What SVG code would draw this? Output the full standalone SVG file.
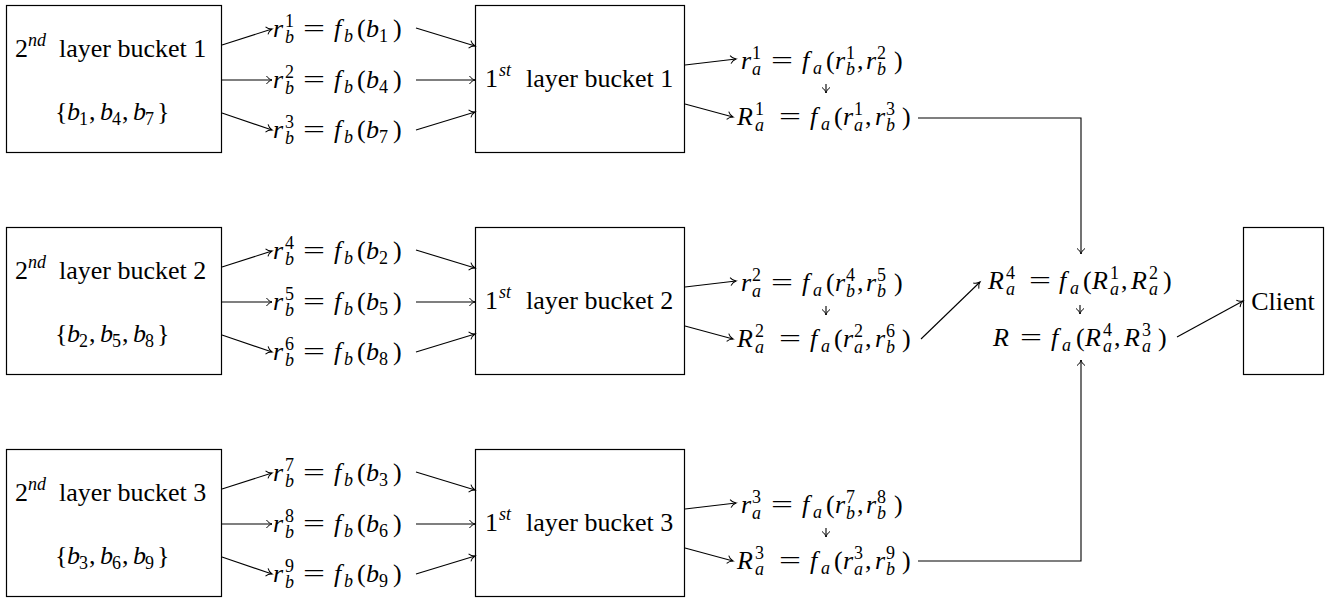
<svg xmlns="http://www.w3.org/2000/svg" width="1327" height="599" viewBox="0 0 1327 599" font-family="Liberation Serif" font-size="26">
<defs>
<marker id="ah" markerUnits="userSpaceOnUse" markerWidth="12" markerHeight="12" viewBox="-7 -6 8 12" refX="0" refY="0" orient="auto" overflow="visible">
<path d="M-5.5,-4 C-4,-1.6 -1.5,-0.4 0,0 C-1.5,0.4 -4,1.6 -5.5,4" fill="none" stroke="#000" stroke-width="1"/>
</marker>
</defs>
<g id="bucket2-1">
<rect fill="#fff" stroke="#000" stroke-width="1.2" x="6.5" y="5.5" width="215" height="147"/>
<text font-family="Liberation Serif"><tspan x="15" y="57">2</tspan><tspan x="28" y="46" font-size="18" font-style="italic">nd</tspan><tspan x="59" y="57">layer bucket 1</tspan></text>
<text font-family="Liberation Serif"><tspan x="55" y="120">{</tspan><tspan x="67" y="120" font-style="italic">b</tspan><tspan x="79" y="125" font-size="18">1</tspan><tspan x="89" y="120">,</tspan><tspan x="100" y="120" font-style="italic">b</tspan><tspan x="112" y="125" font-size="18">4</tspan><tspan x="122" y="120">,</tspan><tspan x="133" y="120" font-style="italic">b</tspan><tspan x="145" y="125" font-size="18">7</tspan><tspan x="157" y="120">}</tspan></text>
</g>
<g id="rb1"><text font-family="Liberation Serif"><tspan x="273" y="37" font-style="italic">r</tspan><tspan x="285" y="27" font-size="18">1</tspan><tspan x="285" y="43" font-size="18" font-style="italic">b</tspan><tspan x="303" y="37" textLength="22" lengthAdjust="spacingAndGlyphs">=</tspan><tspan x="334" y="37" font-style="italic">f</tspan><tspan x="344" y="42" font-size="18" font-style="italic">b</tspan><tspan x="357" y="37">(</tspan><tspan x="366" y="37" font-style="italic">b</tspan><tspan x="379" y="42" font-size="18">1</tspan><tspan x="393" y="37">)</tspan></text></g>
<g id="rb2"><text font-family="Liberation Serif"><tspan x="273" y="88" font-style="italic">r</tspan><tspan x="285" y="78" font-size="18">2</tspan><tspan x="285" y="94" font-size="18" font-style="italic">b</tspan><tspan x="303" y="88" textLength="22" lengthAdjust="spacingAndGlyphs">=</tspan><tspan x="334" y="88" font-style="italic">f</tspan><tspan x="344" y="93" font-size="18" font-style="italic">b</tspan><tspan x="357" y="88">(</tspan><tspan x="366" y="88" font-style="italic">b</tspan><tspan x="379" y="93" font-size="18">4</tspan><tspan x="393" y="88">)</tspan></text></g>
<g id="rb3"><text font-family="Liberation Serif"><tspan x="273" y="138" font-style="italic">r</tspan><tspan x="285" y="128" font-size="18">3</tspan><tspan x="285" y="144" font-size="18" font-style="italic">b</tspan><tspan x="303" y="138" textLength="22" lengthAdjust="spacingAndGlyphs">=</tspan><tspan x="334" y="138" font-style="italic">f</tspan><tspan x="344" y="143" font-size="18" font-style="italic">b</tspan><tspan x="357" y="138">(</tspan><tspan x="366" y="138" font-style="italic">b</tspan><tspan x="379" y="143" font-size="18">7</tspan><tspan x="393" y="138">)</tspan></text></g>
<g id="bucket1-1">
<rect fill="#fff" stroke="#000" stroke-width="1.2" x="475.5" y="5.5" width="209" height="147"/>
<text font-family="Liberation Serif"><tspan x="485" y="87">1</tspan><tspan x="499" y="76" font-size="18" font-style="italic">st</tspan><tspan x="526" y="87">layer bucket 1</tspan></text>
</g>
<g id="ra1"><text font-family="Liberation Serif"><tspan x="741" y="69" font-style="italic">r</tspan><tspan x="752" y="59" font-size="18">1</tspan><tspan x="752" y="75" font-size="18" font-style="italic">a</tspan><tspan x="771" y="69" textLength="22" lengthAdjust="spacingAndGlyphs">=</tspan><tspan x="802" y="69" font-style="italic">f</tspan><tspan x="813" y="74" font-size="18" font-style="italic">a</tspan><tspan x="826" y="69">(</tspan><tspan x="835" y="69" font-style="italic">r</tspan><tspan x="846" y="59" font-size="18">1</tspan><tspan x="846" y="75" font-size="18" font-style="italic">b</tspan><tspan x="857" y="69">,</tspan><tspan x="866" y="69" font-style="italic">r</tspan><tspan x="877" y="59" font-size="18">2</tspan><tspan x="877" y="75" font-size="18" font-style="italic">b</tspan><tspan x="894" y="69">)</tspan></text></g>
<g id="Ra1"><text font-family="Liberation Serif"><tspan x="737" y="125" font-style="italic">R</tspan><tspan x="755" y="115" font-size="18">1</tspan><tspan x="755" y="131" font-size="18" font-style="italic">a</tspan><tspan x="779" y="125" textLength="22" lengthAdjust="spacingAndGlyphs">=</tspan><tspan x="810" y="125" font-style="italic">f</tspan><tspan x="821" y="130" font-size="18" font-style="italic">a</tspan><tspan x="834" y="125">(</tspan><tspan x="843" y="125" font-style="italic">r</tspan><tspan x="854" y="115" font-size="18">1</tspan><tspan x="854" y="131" font-size="18" font-style="italic">a</tspan><tspan x="865" y="125">,</tspan><tspan x="875" y="125" font-style="italic">r</tspan><tspan x="886" y="115" font-size="18">3</tspan><tspan x="886" y="131" font-size="18" font-style="italic">b</tspan><tspan x="902" y="125">)</tspan></text></g>

<g id="bucket2-2">
<rect fill="#fff" stroke="#000" stroke-width="1.2" x="6.5" y="227.5" width="215" height="147"/>
<text font-family="Liberation Serif"><tspan x="15" y="279">2</tspan><tspan x="28" y="268" font-size="18" font-style="italic">nd</tspan><tspan x="59" y="279">layer bucket 2</tspan></text>
<text font-family="Liberation Serif"><tspan x="55" y="342">{</tspan><tspan x="67" y="342" font-style="italic">b</tspan><tspan x="79" y="347" font-size="18">2</tspan><tspan x="89" y="342">,</tspan><tspan x="100" y="342" font-style="italic">b</tspan><tspan x="112" y="347" font-size="18">5</tspan><tspan x="122" y="342">,</tspan><tspan x="133" y="342" font-style="italic">b</tspan><tspan x="145" y="347" font-size="18">8</tspan><tspan x="157" y="342">}</tspan></text>
</g>
<g id="rb4"><text font-family="Liberation Serif"><tspan x="273" y="259" font-style="italic">r</tspan><tspan x="285" y="249" font-size="18">4</tspan><tspan x="285" y="265" font-size="18" font-style="italic">b</tspan><tspan x="303" y="259" textLength="22" lengthAdjust="spacingAndGlyphs">=</tspan><tspan x="334" y="259" font-style="italic">f</tspan><tspan x="344" y="264" font-size="18" font-style="italic">b</tspan><tspan x="357" y="259">(</tspan><tspan x="366" y="259" font-style="italic">b</tspan><tspan x="379" y="264" font-size="18">2</tspan><tspan x="393" y="259">)</tspan></text></g>
<g id="rb5"><text font-family="Liberation Serif"><tspan x="273" y="310" font-style="italic">r</tspan><tspan x="285" y="300" font-size="18">5</tspan><tspan x="285" y="316" font-size="18" font-style="italic">b</tspan><tspan x="303" y="310" textLength="22" lengthAdjust="spacingAndGlyphs">=</tspan><tspan x="334" y="310" font-style="italic">f</tspan><tspan x="344" y="315" font-size="18" font-style="italic">b</tspan><tspan x="357" y="310">(</tspan><tspan x="366" y="310" font-style="italic">b</tspan><tspan x="379" y="315" font-size="18">5</tspan><tspan x="393" y="310">)</tspan></text></g>
<g id="rb6"><text font-family="Liberation Serif"><tspan x="273" y="360" font-style="italic">r</tspan><tspan x="285" y="350" font-size="18">6</tspan><tspan x="285" y="366" font-size="18" font-style="italic">b</tspan><tspan x="303" y="360" textLength="22" lengthAdjust="spacingAndGlyphs">=</tspan><tspan x="334" y="360" font-style="italic">f</tspan><tspan x="344" y="365" font-size="18" font-style="italic">b</tspan><tspan x="357" y="360">(</tspan><tspan x="366" y="360" font-style="italic">b</tspan><tspan x="379" y="365" font-size="18">8</tspan><tspan x="393" y="360">)</tspan></text></g>
<g id="bucket1-2">
<rect fill="#fff" stroke="#000" stroke-width="1.2" x="475.5" y="227.5" width="209" height="147"/>
<text font-family="Liberation Serif"><tspan x="485" y="309">1</tspan><tspan x="499" y="298" font-size="18" font-style="italic">st</tspan><tspan x="526" y="309">layer bucket 2</tspan></text>
</g>
<g id="ra2"><text font-family="Liberation Serif"><tspan x="741" y="291" font-style="italic">r</tspan><tspan x="752" y="281" font-size="18">2</tspan><tspan x="752" y="297" font-size="18" font-style="italic">a</tspan><tspan x="771" y="291" textLength="22" lengthAdjust="spacingAndGlyphs">=</tspan><tspan x="802" y="291" font-style="italic">f</tspan><tspan x="813" y="296" font-size="18" font-style="italic">a</tspan><tspan x="826" y="291">(</tspan><tspan x="835" y="291" font-style="italic">r</tspan><tspan x="846" y="281" font-size="18">4</tspan><tspan x="846" y="297" font-size="18" font-style="italic">b</tspan><tspan x="857" y="291">,</tspan><tspan x="866" y="291" font-style="italic">r</tspan><tspan x="877" y="281" font-size="18">5</tspan><tspan x="877" y="297" font-size="18" font-style="italic">b</tspan><tspan x="894" y="291">)</tspan></text></g>
<g id="Ra2"><text font-family="Liberation Serif"><tspan x="737" y="347" font-style="italic">R</tspan><tspan x="755" y="337" font-size="18">2</tspan><tspan x="755" y="353" font-size="18" font-style="italic">a</tspan><tspan x="779" y="347" textLength="22" lengthAdjust="spacingAndGlyphs">=</tspan><tspan x="810" y="347" font-style="italic">f</tspan><tspan x="821" y="352" font-size="18" font-style="italic">a</tspan><tspan x="834" y="347">(</tspan><tspan x="843" y="347" font-style="italic">r</tspan><tspan x="854" y="337" font-size="18">2</tspan><tspan x="854" y="353" font-size="18" font-style="italic">a</tspan><tspan x="865" y="347">,</tspan><tspan x="875" y="347" font-style="italic">r</tspan><tspan x="886" y="337" font-size="18">6</tspan><tspan x="886" y="353" font-size="18" font-style="italic">b</tspan><tspan x="902" y="347">)</tspan></text></g>

<g id="bucket2-3">
<rect fill="#fff" stroke="#000" stroke-width="1.2" x="6.5" y="449.5" width="215" height="147"/>
<text font-family="Liberation Serif"><tspan x="15" y="501">2</tspan><tspan x="28" y="490" font-size="18" font-style="italic">nd</tspan><tspan x="59" y="501">layer bucket 3</tspan></text>
<text font-family="Liberation Serif"><tspan x="55" y="564">{</tspan><tspan x="67" y="564" font-style="italic">b</tspan><tspan x="79" y="569" font-size="18">3</tspan><tspan x="89" y="564">,</tspan><tspan x="100" y="564" font-style="italic">b</tspan><tspan x="112" y="569" font-size="18">6</tspan><tspan x="122" y="564">,</tspan><tspan x="133" y="564" font-style="italic">b</tspan><tspan x="145" y="569" font-size="18">9</tspan><tspan x="157" y="564">}</tspan></text>
</g>
<g id="rb7"><text font-family="Liberation Serif"><tspan x="273" y="481" font-style="italic">r</tspan><tspan x="285" y="471" font-size="18">7</tspan><tspan x="285" y="487" font-size="18" font-style="italic">b</tspan><tspan x="303" y="481" textLength="22" lengthAdjust="spacingAndGlyphs">=</tspan><tspan x="334" y="481" font-style="italic">f</tspan><tspan x="344" y="486" font-size="18" font-style="italic">b</tspan><tspan x="357" y="481">(</tspan><tspan x="366" y="481" font-style="italic">b</tspan><tspan x="379" y="486" font-size="18">3</tspan><tspan x="393" y="481">)</tspan></text></g>
<g id="rb8"><text font-family="Liberation Serif"><tspan x="273" y="532" font-style="italic">r</tspan><tspan x="285" y="522" font-size="18">8</tspan><tspan x="285" y="538" font-size="18" font-style="italic">b</tspan><tspan x="303" y="532" textLength="22" lengthAdjust="spacingAndGlyphs">=</tspan><tspan x="334" y="532" font-style="italic">f</tspan><tspan x="344" y="537" font-size="18" font-style="italic">b</tspan><tspan x="357" y="532">(</tspan><tspan x="366" y="532" font-style="italic">b</tspan><tspan x="379" y="537" font-size="18">6</tspan><tspan x="393" y="532">)</tspan></text></g>
<g id="rb9"><text font-family="Liberation Serif"><tspan x="273" y="582" font-style="italic">r</tspan><tspan x="285" y="572" font-size="18">9</tspan><tspan x="285" y="588" font-size="18" font-style="italic">b</tspan><tspan x="303" y="582" textLength="22" lengthAdjust="spacingAndGlyphs">=</tspan><tspan x="334" y="582" font-style="italic">f</tspan><tspan x="344" y="587" font-size="18" font-style="italic">b</tspan><tspan x="357" y="582">(</tspan><tspan x="366" y="582" font-style="italic">b</tspan><tspan x="379" y="587" font-size="18">9</tspan><tspan x="393" y="582">)</tspan></text></g>
<g id="bucket1-3">
<rect fill="#fff" stroke="#000" stroke-width="1.2" x="475.5" y="449.5" width="209" height="147"/>
<text font-family="Liberation Serif"><tspan x="485" y="531">1</tspan><tspan x="499" y="520" font-size="18" font-style="italic">st</tspan><tspan x="526" y="531">layer bucket 3</tspan></text>
</g>
<g id="ra3"><text font-family="Liberation Serif"><tspan x="741" y="513" font-style="italic">r</tspan><tspan x="752" y="503" font-size="18">3</tspan><tspan x="752" y="519" font-size="18" font-style="italic">a</tspan><tspan x="771" y="513" textLength="22" lengthAdjust="spacingAndGlyphs">=</tspan><tspan x="802" y="513" font-style="italic">f</tspan><tspan x="813" y="518" font-size="18" font-style="italic">a</tspan><tspan x="826" y="513">(</tspan><tspan x="835" y="513" font-style="italic">r</tspan><tspan x="846" y="503" font-size="18">7</tspan><tspan x="846" y="519" font-size="18" font-style="italic">b</tspan><tspan x="857" y="513">,</tspan><tspan x="866" y="513" font-style="italic">r</tspan><tspan x="877" y="503" font-size="18">8</tspan><tspan x="877" y="519" font-size="18" font-style="italic">b</tspan><tspan x="894" y="513">)</tspan></text></g>
<g id="Ra3"><text font-family="Liberation Serif"><tspan x="737" y="569" font-style="italic">R</tspan><tspan x="755" y="559" font-size="18">3</tspan><tspan x="755" y="575" font-size="18" font-style="italic">a</tspan><tspan x="779" y="569" textLength="22" lengthAdjust="spacingAndGlyphs">=</tspan><tspan x="810" y="569" font-style="italic">f</tspan><tspan x="821" y="574" font-size="18" font-style="italic">a</tspan><tspan x="834" y="569">(</tspan><tspan x="843" y="569" font-style="italic">r</tspan><tspan x="854" y="559" font-size="18">3</tspan><tspan x="854" y="575" font-size="18" font-style="italic">a</tspan><tspan x="865" y="569">,</tspan><tspan x="875" y="569" font-style="italic">r</tspan><tspan x="886" y="559" font-size="18">9</tspan><tspan x="886" y="575" font-size="18" font-style="italic">b</tspan><tspan x="902" y="569">)</tspan></text></g>

<g id="Ra4"><text font-family="Liberation Serif"><tspan x="988" y="289" font-style="italic">R</tspan><tspan x="1006" y="279" font-size="18">4</tspan><tspan x="1006" y="295" font-size="18" font-style="italic">a</tspan><tspan x="1029" y="289" textLength="22" lengthAdjust="spacingAndGlyphs">=</tspan><tspan x="1059" y="289" font-style="italic">f</tspan><tspan x="1070" y="294" font-size="18" font-style="italic">a</tspan><tspan x="1083" y="289">(</tspan><tspan x="1092" y="289" font-style="italic">R</tspan><tspan x="1110" y="279" font-size="18">1</tspan><tspan x="1110" y="295" font-size="18" font-style="italic">a</tspan><tspan x="1121" y="289">,</tspan><tspan x="1131" y="289" font-style="italic">R</tspan><tspan x="1149" y="279" font-size="18">2</tspan><tspan x="1149" y="295" font-size="18" font-style="italic">a</tspan><tspan x="1163" y="289">)</tspan></text></g>
<g id="R"><text font-family="Liberation Serif"><tspan x="993" y="346" font-style="italic">R</tspan><tspan x="1020" y="346" textLength="22" lengthAdjust="spacingAndGlyphs">=</tspan><tspan x="1051" y="346" font-style="italic">f</tspan><tspan x="1062" y="351" font-size="18" font-style="italic">a</tspan><tspan x="1076" y="346">(</tspan><tspan x="1085" y="346" font-style="italic">R</tspan><tspan x="1103" y="336" font-size="18">4</tspan><tspan x="1103" y="352" font-size="18" font-style="italic">a</tspan><tspan x="1114" y="346">,</tspan><tspan x="1124" y="346" font-style="italic">R</tspan><tspan x="1142" y="336" font-size="18">3</tspan><tspan x="1142" y="352" font-size="18" font-style="italic">a</tspan><tspan x="1158" y="346">)</tspan></text></g>
<g id="client">
<rect fill="#fff" stroke="#000" stroke-width="1.2" x="1243.5" y="227.5" width="80" height="147"/>
<text font-family="Liberation Serif" x="1283" y="310" text-anchor="middle">Client</text>
</g>

<g id="connectors" fill="none" stroke="#000" stroke-width="1.1" marker-end="url(#ah)">
<line x1="222" y1="45" x2="272" y2="29"/>
<line x1="222" y1="80" x2="272" y2="80"/>
<line x1="222" y1="113" x2="272" y2="130"/>
<line x1="416" y1="28" x2="475" y2="46"/>
<line x1="416" y1="80" x2="475" y2="80"/>
<line x1="416" y1="130" x2="475" y2="112"/>
<line x1="685" y1="65" x2="736" y2="59"/>
<line x1="685" y1="104" x2="733" y2="117"/>
<line x1="826" y1="84" x2="826" y2="93"/>
<polyline points="918,118 1081,118 1081,254"/>
<line x1="222" y1="267" x2="272" y2="251"/>
<line x1="222" y1="302" x2="272" y2="302"/>
<line x1="222" y1="335" x2="272" y2="352"/>
<line x1="416" y1="250" x2="475" y2="268"/>
<line x1="416" y1="302" x2="475" y2="302"/>
<line x1="416" y1="352" x2="475" y2="334"/>
<line x1="685" y1="287" x2="736" y2="281"/>
<line x1="685" y1="326" x2="733" y2="339"/>
<line x1="826" y1="306" x2="826" y2="315"/>
<line x1="921" y1="339" x2="980" y2="282"/>
<line x1="222" y1="489" x2="272" y2="473"/>
<line x1="222" y1="524" x2="272" y2="524"/>
<line x1="222" y1="557" x2="272" y2="574"/>
<line x1="416" y1="472" x2="475" y2="490"/>
<line x1="416" y1="524" x2="475" y2="524"/>
<line x1="416" y1="574" x2="475" y2="556"/>
<line x1="685" y1="509" x2="736" y2="503"/>
<line x1="685" y1="548" x2="733" y2="561"/>
<line x1="826" y1="528" x2="826" y2="537"/>
<polyline points="918,561 1081,561 1081,360"/>
<line x1="1080" y1="305" x2="1080" y2="314"/>
<line x1="1177" y1="337" x2="1243" y2="301"/>
</g>
</svg>
